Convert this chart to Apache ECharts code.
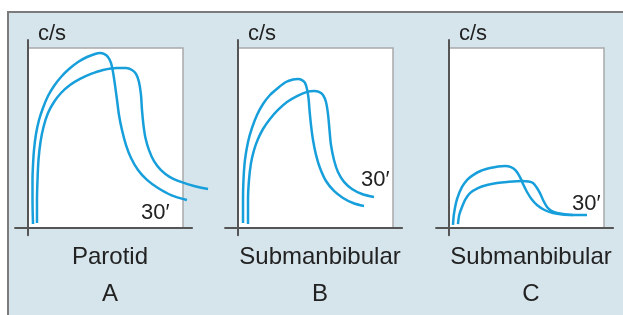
<!DOCTYPE html>
<html>
<head>
<meta charset="utf-8">
<script src="https://cdn.jsdelivr.net/npm/echarts@6/dist/echarts.min.js"></script>
<style>
  html, body { margin: 0; padding: 0; background: #fff; }
  #frame {
    position: absolute; left: 7px; top: 11px; width: 616px; height: 304px;
    background: #d6e4ec; border-left: 2px solid #7b7b7b; border-top: 2px solid #7b7b7b;
  }
  #chart { position: absolute; left: 0; top: 0; width: 623px; height: 315px; }
</style>
</head>
<body>
<div id="frame"></div>
<div id="chart"></div>
<script>
// x = minutes (0..30), y = relative count rate c/s (0..100)
const parotidEarly = [[0.97, 2.2], [0.87, 15.6], [0.87, 26.7], [0.97, 35], [1.16, 43.3], [1.55, 52.2], [2.13, 60], [2.9, 66.7], [3.87, 73.3], [5.03, 78.9], [6.39, 83.9], [7.94, 88.3], [9.68, 92.2], [11.42, 95], [12.97, 96.7], [13.94, 97.2], [14.71, 96.7], [15.48, 95], [16.06, 91.7], [16.45, 86.7], [16.84, 79.4], [17.23, 71.1], [17.61, 62.8], [18.19, 54.4], [18.97, 46.1], [19.94, 38.9], [21.29, 32.2], [23.03, 26.7], [25.16, 22.2], [27.68, 18.3], [30.77, 15.6]]
const parotidLate = [[1.74, 2.8], [1.74, 15.6], [1.84, 26.7], [2.03, 37.8], [2.42, 47.8], [3.0, 56.1], [3.87, 63.9], [5.03, 70], [6.39, 75], [8.13, 79.4], [10.06, 82.8], [12.19, 85.6], [14.52, 87.8], [17.23, 88.9], [18.97, 88.9], [20.13, 87.8], [20.9, 85.6], [21.48, 81.1], [21.87, 73.9], [22.06, 65.6], [22.35, 57.2], [22.74, 50], [23.42, 43.3], [24.39, 37.2], [25.74, 32.2], [27.48, 28.3], [29.61, 25.6], [32.13, 23.3], [34.84, 21.7]]
const submandBEarly = [[0.97, 2.8], [0.97, 15.6], [1.06, 26.7], [1.35, 37.8], [1.94, 47.8], [2.71, 55.6], [3.68, 62.8], [4.84, 68.9], [6.19, 73.9], [7.74, 77.8], [9.29, 81.1], [10.65, 82.5], [11.61, 82.8], [12.39, 82.2], [12.97, 80.6], [13.35, 77.2], [13.65, 72.2], [13.84, 65.6], [14.13, 57.2], [14.52, 48.9], [15.1, 40.6], [15.87, 33.3], [17.03, 26.1], [18.58, 20.6], [20.32, 16.7], [22.26, 13.9], [24.39, 12.2]]
const submandBLate = [[1.94, 2.2], [1.94, 15.6], [2.13, 26.7], [2.52, 36.1], [3.1, 43.3], [3.87, 49.4], [4.84, 55], [6.19, 60.6], [7.74, 65.6], [9.48, 70], [11.42, 73.3], [13.35, 75.6], [14.71, 76.1], [15.68, 75.6], [16.45, 73.9], [17.03, 70], [17.42, 63.3], [17.71, 54.4], [18.0, 46.1], [18.58, 37.8], [19.35, 31.1], [20.52, 25.6], [22.06, 21.7], [24.0, 18.9], [26.32, 17.2]]
const submandCEarly = [[0.77, 1.7], [0.97, 8], [1.55, 16], [2.52, 22.8], [3.6, 27], [4.65, 29.4], [6.2, 31.8], [7.94, 33.3], [9.5, 34.2], [10.84, 34.4], [12.0, 33.8], [12.9, 32], [13.74, 28.3], [14.4, 24], [15.1, 20], [16.0, 16], [17.03, 12.8], [18.5, 10], [20.13, 8.3], [22.0, 7.5], [24.0, 7.2]]
const submandCLate = [[1.74, 2.2], [2.0, 7.5], [2.52, 11.7], [3.2, 16], [4.06, 19.4], [5.6, 22.2], [7.35, 23.9], [9.3, 25], [11.23, 25.6], [14.13, 26.1], [15.4, 25.8], [16.26, 25], [16.9, 22.8], [17.61, 19.4], [18.3, 15], [18.97, 11.7], [19.8, 9.5], [20.9, 8.3], [22.4, 7.6], [24.0, 7.2], [26.71, 7.2]]

const panelNames = ['Parotid', 'Submanbibular', 'Submanbibular']
const panelLetters = ['A', 'B', 'C']
const yName = 'c/s'
const timeLabel = '30\u2032'
const curves = [[parotidEarly, parotidLate], [submandBEarly, submandBLate], [submandCEarly, submandCLate]]

const offsets = [0, 210, 421]
const curveMax = [35.5, 35.5, 32]
const timeLabelPos = [[141, 213], [361, 180], [572, 204]]
const blue = '#179fdb'
const font = 'Liberation Sans, Arial, sans-serif'
const pxPerMin = 155 / 30

const chart = echarts.init(document.getElementById('chart'), null, {renderer: 'canvas'})

const grid = [], xAxis = [], yAxis = [], series = [], graphic = []
const axisStyle = {onZero: true, lineStyle: {color: '#555', width: 2}}
offsets.forEach((off, i) => {
  // visible axes
  grid.push({left: 28 - 2.5 * pxPerMin + off, top: 40.08, width: 34.25 * pxPerMin, height: 195.12})
  xAxis.push({type: 'value', gridIndex: i, min: -2.5, max: 31.75, z: 10, axisLine: axisStyle,
    axisTick: {show: false}, axisLabel: {show: false}, splitLine: {show: false}})
  yAxis.push({type: 'value', gridIndex: i, min: -4, max: 104.4, z: 10, axisLine: axisStyle,
    axisTick: {show: false}, axisLabel: {show: false}, splitLine: {show: false}})
})
offsets.forEach((off, i) => {
  // same scale, wider range so curves may run past the axis end
  const g = grid.length
  grid.push({left: 28 - 2.5 * pxPerMin + off, top: 40.08, width: (curveMax[i] + 2.5) * pxPerMin, height: 195.12})
  xAxis.push({type: 'value', gridIndex: g, min: -2.5, max: curveMax[i], show: false})
  yAxis.push({type: 'value', gridIndex: g, min: -4, max: 104.4, show: false})
  curves[i].forEach((d, k) => {
    series.push({
      type: 'line', xAxisIndex: g, yAxisIndex: g, data: d,
      smooth: 0.3, showSymbol: false, clip: false, silent: true,
      lineStyle: {color: blue, width: 2.5},
      markArea: k === 0 ? {
        silent: true,
        itemStyle: {color: '#fff', borderColor: '#a9a9a9', borderWidth: 1.5},
        data: [[{coord: [0, 0]}, {coord: [30, 100]}]]
      } : undefined,
      z: 3
    })
  })
  graphic.push(
    {type: 'text', left: 38 + off, top: 23, style: {text: yName, font: '22px ' + font, fill: '#222'}},
    {type: 'text', x: 110 + off, y: 257, style: {text: panelNames[i], font: '24px ' + font, fill: '#222', textAlign: 'center', textVerticalAlign: 'middle'}},
    {type: 'text', x: 110 + off, y: 294, style: {text: panelLetters[i], font: '24px ' + font, fill: '#222', textAlign: 'center', textVerticalAlign: 'middle'}},
    {type: 'text', x: timeLabelPos[i][0], y: timeLabelPos[i][1], z: 20, style: {text: timeLabel, font: '22px ' + font, fill: '#222', textAlign: 'left', textVerticalAlign: 'middle'}}
  )
})

chart.setOption({animation: false, grid, xAxis, yAxis, series, graphic})
</script>
</body>
</html>
